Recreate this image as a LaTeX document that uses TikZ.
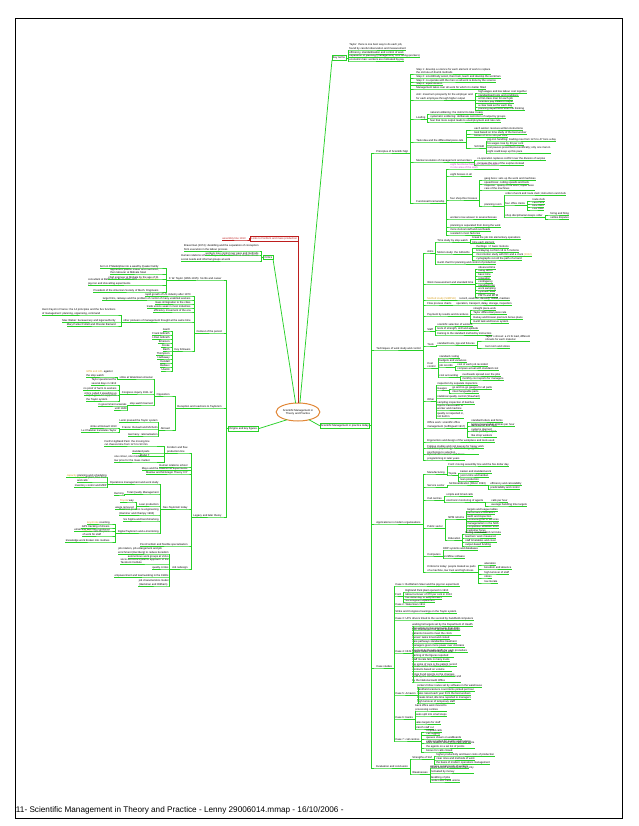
\documentclass[tikz,border=0pt]{standalone}
\usepackage{fontspec}
\setmainfont{Liberation Sans}
\usetikzlibrary{shapes.geometric}
\definecolor{mapgreen}{RGB}{40,208,40}
\definecolor{mapred}{RGB}{190,30,30}
\definecolor{maporange}{RGB}{225,135,55}
\definecolor{mapgold}{RGB}{215,160,30}
\definecolor{mappink}{RGB}{200,60,200}

\begin{document}
\begin{tikzpicture}[x=1pt, y=-1pt,
  every node/.style={font=\fontsize{2.7}{3.3}\selectfont, inner sep=0.4pt, outer sep=0pt, align=left},
  tr/.style={anchor=south west},
  tl/.style={anchor=south east},
  br/.style={draw=mapgreen, line width=0.75pt},
  rb/.style={draw=mapred, line width=0.75pt},
  mainbox/.style={draw=mapgreen, line width=0.75pt, inner sep=0.9pt},
  gold/.style={text=mapgold},
  pink/.style={text=mappink}]
\useasboundingbox (0,0) rectangle (638,826);
\draw[line width=0.8pt] (15,18) rectangle (622,818);
\node[anchor=base west, font=\fontsize{8.2}{10}\selectfont, inner sep=0pt] (foot) at (16,812) {11- Scientific Management in Theory and Practice - Lenny 29006014.mmap - 16/10/2006 -};

\node[ellipse, draw=maporange, line width=1pt, fill=white, minimum width=42pt, minimum height=18pt, align=center] (C) at (298,412) {Scientific Management in\\Theory and Practice};

\node[mainbox, anchor=south west] (B) at (332,60) {Key terms};
\node[mainbox, anchor=south east] (G1) at (273,259) {Critics};
\node[draw=mapred, line width=0.75pt, inner sep=0.9pt, anchor=south east, text=mapred] (Rd1) at (298,241) {Links to Fordism and mass production};
\node[tl, text=mapred] (Rd2) at (246,240) {assembly line 1913};
\node[mainbox, anchor=south west] (R0) at (320,428) {Scientific Management in practice today};
\node[mainbox, anchor=south east] (L0) at (258,431) {Origins and key figures};

\draw[br] (C.78) -- (B.south west);
\draw[br] (C.105) -- (G1.south east);
\draw[rb] (C.north) -- (Rd1.south east);
\draw[rb] (Rd1.west) -- ++(-1.5,0) |- (Rd2.south east) -- (Rd2.south west);
\draw[br] (C.-35) -- (R0.west);
\draw[br] (C.-145) -- (L0.east);

\node[tr] (b1) at (349,50) {Taylor: there is one best way to do each job,\\found by careful observation and measurement};
\node[tr] (b2) at (349,54) {efficiency, standardisation and control of work};
\node[tr] (b3) at (349,57.5) {separation of planning (management) from doing (workers)};
\node[tr] (b4) at (349,61) {economic man: workers are motivated by pay};
\foreach \c in {b1,b2,b3,b4} \draw[br] (B.east) -- ++(2,0) |- (\c.south west) -- (\c.south east);

\node[tl] (g1) at (259,251) {Braverman (1974): deskilling and the separation of conception\\from execution in the labour process};
\node[tl] (g2) at (259,255) {workers lose control over pace and methods};
\node[tl] (g3) at (259,261) {Human relations school: Mayo and the Hawthorne studies stress\\social needs and informal groups at work};
\foreach \c in {g1,g2,g3} \draw[br] (G1.west) -- ++(-2,0) |- (\c.south east) -- (\c.south west);

\node[tr] (R1) at (376,153) {Principles of Scientific Mgt};
\node[tr] (R2) at (376,350) {Techniques of work study and control};
\node[tr] (R3) at (376,524) {Applications in modern organisations};
\node[tr] (R4) at (376,668) {Case studies};
\node[tr] (R5) at (376,768) {Evaluation and conclusion};
\foreach \c in {R1,R2,R3,R4,R5} \draw[br] (R0.east) -- ++(1.5,0) |- (\c.south west) -- (\c.south east);

\node[tr] (r1a) at (416,74) {Step 1: develop a science for each element of work to replace\\the old rule-of-thumb methods};
\node[tr] (r1b) at (416,78) {Step 2: scientifically select, then train, teach and develop the workman};
\node[tr] (r1c) at (416,82) {Step 3: co-operate with the men so all work is done by the science};
\node[tr] (r1d) at (416,85.5) {Step 4: equal division};
\node[tr] (r1e) at (416,89) {Management takes over all work for which it is better fitted};
\node[tr] (r1f) at (416,100) {Aim: maximum prosperity for the employer and\\for each employee through higher output};
\node[tr] (r1g) at (416,119) {Loafing};
\node[tr] (r1h) at (416,142) {Task idea and the differential piece-rate};
\node[tr] (r1i) at (416,162) {Mental revolution of management and workers};
\node[tr] (r1j) at (416,203) {Functional foremanship};
\foreach \c in {r1a,r1b,r1c,r1d,r1e,r1f,r1g,r1h,r1i,r1j} \draw[br] (R1.south east) -- ++(2,0) |- (\c.south west) -- (\c.south east);

\node[tr] (r1f1) at (478,93) {high wages and low labour cost together};
\node[tr] (r1f2) at (478,96.5) {standardised tools and conditions};
\node[tr] (r1f3) at (478,100) {a first-class man for each job};
\node[tr] (r1f4) at (478,103.5) {incentive pay linked to output};
\node[tr] (r1f5) at (478,107) {a clear task set for each day};
\node[tr] (r1f6) at (478,110.5) {planning department does the thinking};
\foreach \c in {r1f1,r1f2,r1f3,r1f4,r1f5,r1f6} \draw[br] (r1f.south east) -- ++(2,0) |- (\c.south west) -- (\c.south east);

\node[tr] (r1g1) at (430,114) {natural soldiering: the instinct to take it easy};
\node[tr] (r1g2) at (430,118) {systematic soldiering: deliberate restriction of output by groups};
\node[tr] (r1g3) at (430,122) {fear that more output leads to unemployment and rate cuts};
\foreach \c in {r1g1,r1g2,r1g3} \draw[br] (r1g.south east) -- ++(2,0) |- (\c.south west) -- (\c.south east);

\node[tr] (r1h1) at (474,130) {each worker receives written instructions};
\node[tr] (r1h2) at (474,134) {task based on time study of the best worker};
\node[tr] (r1h3) at (474,137.5) {bonus of 30 to 100 per cent};
\node[tr] (r1h4) at (474,148) {Schmidt};
\foreach \c in {r1h1,r1h2,r1h3,r1h4} \draw[br] (r1h.south east) -- ++(2,0) |- (\c.south west) -- (\c.south east);
\node[tr] (r1h4a) at (487,141) {pig-iron handling: loading rose from 12.5 to 47 tons a day};
\node[tr] (r1h4b) at (487,145) {his wages rose by 60 per cent};
\node[tr] (r1h4c) at (487,153) {rest pauses prescribed scientifically; only one man in\\eight could keep up this pace};
\foreach \c in {r1h4a,r1h4b,r1h4c} \draw[br] (r1h4.south east) -- ++(2,0) |- (\c.south west) -- (\c.south east);

\node[tr] (r1i1) at (477,160) {co-operation replaces conflict over the division of surplus};
\node[tr] (r1i2) at (477,165) {increase the size of the surplus instead};
\foreach \c in {r1i1,r1i2} \draw[br] (r1i.south east) -- ++(2,0) |- (\c.south west) -- (\c.south east);

\node[tr, pink] (r1j1) at (450,169) {eight functional foremen, each an expert\\in one area of the work};
\node[tr] (r1j2) at (450,176) {eight bosses in all};
\node[tr] (r1j3) at (450,200) {four shop-floor bosses};
\node[tr] (r1j4) at (450,219) {workers now answer to several bosses};
\node[tr] (r1j5) at (450,227) {planning is separated from doing the work};
\node[tr] (r1j6) at (450,231) {more clerical staff and overheads};
\node[tr] (r1j7) at (450,235) {resisted in most factories};
\foreach \c in {r1j1,r1j2,r1j3,r1j4,r1j5,r1j6,r1j7} \draw[br] (r1j.south east) -- ++(2,0) |- (\c.south west) -- (\c.south east);
\node[tr] (r1j3a) at (484,180) {gang boss: sets up the work and machines};
\node[tr] (r1j3b) at (484,184) {speed boss: cutting speeds and tools};
\node[tr] (r1j3c) at (484,190) {inspector: quality of the work; repair boss:\\care of the machines};
\node[tr] (r1j3d) at (484,206) {planning room};
\foreach \c in {r1j3a,r1j3b,r1j3c,r1j3d} \draw[br] (r1j3.south east) -- ++(2,0) |- (\c.south west) -- (\c.south east);
\node[tr] (r1j3d1) at (505,195) {order of work and route clerk; instruction card clerk};
\node[tr] (r1j3d2) at (505,205) {four office clerks};
\node[tr] (r1j3d3) at (505,217) {shop disciplinarian keeps order};
\foreach \c in {r1j3d1,r1j3d2,r1j3d3} \draw[br] (r1j3d.south east) -- ++(2,0) |- (\c.south west) -- (\c.south east);
\node[tr] (k1) at (532,201) {route clerk};
\node[tr] (k2) at (532,204) {card clerk};
\node[tr] (k3) at (532,207) {time clerk};
\node[tr] (k4) at (532,210) {cost clerk};
\foreach \c in {k1,k2,k3,k4} \draw[br] (r1j3d2.south east) -- ++(2,0) |- (\c.south west) -- (\c.south east);
\node[tr] (k5) at (550,215) {hiring and firing};
\node[tr] (k6) at (550,219) {settles disputes};
\foreach \c in {k5,k6} \draw[br] (r1j3d3.south east) -- ++(2,0) |- (\c.south west) -- (\c.south east);

\node[tr] (r2a) at (427,253) {Aims};
\node[tr] (r2b) at (427,284) {Work measurement and standard time};
\node[tr, gold] (r2c) at (427,300) {Method study (SIMPLE)};
\node[tr] (r2d) at (427,305) {Flow process charts};
\node[tr] (r2e) at (427,316) {Payment by results and incentives};
\node[tr] (r2f) at (427,331) {Staff};
\node[tr] (r2g) at (427,346) {Tools};
\node[tr] (r2h) at (427,368) {Cost\\control};
\node[tr] (r2i) at (427,401) {Other};
\node[tr] (r2j) at (427,428) {Office work: scientific office\\management (Leffingwell 1917)};
\node[tr] (r2k) at (427,442) {Ergonomics and design of the workplace and tools used};
\node[tr] (r2l) at (427,448) {Fatigue studies and rest pauses for heavy work};
\node[tr] (r2m) at (427,454) {Industrial psychology: Munsterberg applies\\psychology to selection};
\node[tr] (r2n) at (427,460) {Operations research and linear\\programming in later years};
\foreach \c in {r2a,r2b,r2c,r2d,r2e,r2f,r2g,r2h,r2i,r2j,r2k,r2l,r2m,r2n} \draw[br] (R2.south east) -- ++(2,0) |- (\c.south west) -- (\c.south east);

\node[tr] (r2a1) at (437,242) {Time study by stop-watch};
\node[tr] (r2a2) at (437,254) {Motion study: the Gilbreths};
\node[tr] (r2a3) at (437,264) {Gantt chart for planning and control of production};
\foreach \c in {r2a1,r2a2,r2a3} \draw[br] (r2a.south east) -- ++(2,0) |- (\c.south west) -- (\c.south east);
\node[tr] (r2a1a) at (472,239.5) {break the job into elementary operations};
\node[tr] (r2a1b) at (472,243.5) {time each element};
\foreach \c in {r2a1a,r2a1b} \draw[br] (r2a1.south east) -- ++(2,0) |- (\c.south west) -- (\c.south east);
\node[tr] (r2a2a) at (476,248.5) {therbligs: 17 basic motions};
\node[tr] (r2a2b) at (476,252) {bricklaying cut from 18 to 5 motions};
\node[tr] (r2a2c) at (476,256) {micromotion study with film and a clock {\color{mapgold}(1912)}};
\node[tr] (r2a2d) at (476,260) {cyclegraphs record the path of a hand};
\foreach \c in {r2a2a,r2a2b,r2a2c,r2a2d} \draw[br] (r2a2.south east) -- ++(2,0) |- (\c.south west) -- (\c.south east);

\node[tr] (m1) at (478,269) {observed time};
\node[tr] (m2) at (478,272.5) {rating factor};
\node[tr] (m3) at (478,276) {basic time};
\node[tr] (m4) at (478,279.5) {relaxation};
\node[tr] (m5) at (478,283) {contingency};
\node[tr] (m6) at (478,286.5) {standard time};
\node[tr] (m7) at (478,290) {work sampling};
\node[tr] (m8) at (478,293.5) {synthetic data};
\node[tr] (m9) at (478,297) {PMTS and MTM};
\foreach \c in {m1,m2,m3,m4,m5,m6,m7,m8,m9} \draw[br] (r2b.south east) -- ++(2,0) |- (\c.south west) -- (\c.south east);

\node[tr] (r2c1) at (459,300) {record, examine, develop, install, maintain};
\draw[br] (r2c.south east) -- ++(2,0) |- (r2c1.south west) -- (r2c1.south east);
\node[tr] (r2d1) at (456,305) {operation, transport, delay, storage, inspection};
\draw[br] (r2d.south east) -- ++(2,0) |- (r2d1.south west) -- (r2d1.south east);
\node[tr] (r2e1) at (473,310) {straight piece-work};
\node[tr] (r2e2) at (473,314) {Taylor differential piece rate};
\node[tr] (r2e3) at (473,319) {Halsey and Rowan premium bonus plans};
\node[tr] (r2e4) at (473,323) {Gantt task and bonus system};
\foreach \c in {r2e1,r2e2,r2e3,r2e4} \draw[br] (r2e.south east) -- ++(2,0) |- (\c.south west) -- (\c.south east);
\node[tr] (r2f1) at (437,326) {scientific selection of workers};
\node[tr] (r2f2) at (437,330) {tests of strength, skill and aptitude};
\node[tr] (r2f3) at (437,335) {training to the standard method by instructors};
\foreach \c in {r2f1,r2f2,r2f3} \draw[br] (r2f.south east) -- ++(2,0) |- (\c.south west) -- (\c.south east);
\node[tr] (r2g1) at (437,345) {standard tools, jigs and fixtures};
\draw[br] (r2g.south east) -- ++(2,0) |- (r2g1.south west) -- (r2g1.south east);
\node[tr] (r2g1a) at (485,341) {Taylor's shovel: a 21 lb load, different\\shovels for each material};
\node[tr] (r2g1b) at (485,348) {tool room and stores};
\foreach \c in {r2g1a,r2g1b} \draw[br] (r2g1.south east) -- ++(2,0) |- (\c.south west) -- (\c.south east);

\node[tr] (r2h1) at (439,358) {standard costing};
\node[tr] (r2h2) at (439,362) {budgets and variances};
\node[tr] (r2h3) at (439,367) {job records};
\node[tr] (r2h4) at (439,377) {cost accounting};
\foreach \c in {r2h1,r2h2,r2h3,r2h4} \draw[br] (r2h.south east) -- ++(2,0) |- (\c.south west) -- (\c.south east);
\node[tr] (r2h3a) at (457,366) {cost of each job recorded};
\node[tr] (r2h3b) at (457,370) {compare actual with standard cost};
\foreach \c in {r2h3a,r2h3b} \draw[br] (r2h3.south east) -- ++(2,0) |- (\c.south west) -- (\c.south east);
\node[tr] (r2h4a) at (462,376) {overheads spread over the jobs};
\node[tr] (r2h4b) at (462,380) {monthly cost reports for managers};
\foreach \c in {r2h4a,r2h4b} \draw[br] (r2h4.south east) -- ++(2,0) |- (\c.south west) -- (\c.south east);

\node[tr] (r2i1) at (437,385) {inspection by separate inspectors};
\node[tr] (r2i2) at (437,390) {Gauges};
\node[tr] (r2i3) at (437,398) {statistical quality control (Shewhart)};
\node[tr] (r2i4) at (437,404) {sampling inspection of batches};
\node[tr] (r2i5) at (437,410) {rejects traced back to\\worker and machine};
\node[tr] (r2i6) at (437,418) {quality is inspected in,\\not built in};
\foreach \c in {r2i1,r2i2,r2i3,r2i4,r2i5,r2i6} \draw[br] (r2i.south east) -- ++(2,0) |- (\c.south west) -- (\c.south east);
\node[tr] (r2i2a) at (452,389) {go and no-go gauges for all parts};
\node[tr] (r2i2b) at (452,393) {interchangeable parts};
\foreach \c in {r2i2a,r2i2b} \draw[br] (r2i2.south east) -- ++(2,0) |- (\c.south west) -- (\c.south east);
\node[tr] (r2j1) at (471,422) {standard letters and forms};
\node[tr] (r2j2) at (471,426) {typing measured in strokes per hour};
\node[tr] (r2j3) at (471,431) {desk layout and filing\\systems planned};
\node[tr] (r2j4) at (471,437) {clerks paid by output\\like shop workers};
\foreach \c in {r2j1,r2j2,r2j3,r2j4} \draw[br] (r2j.south east) -- ++(2,0) |- (\c.south west) -- (\c.south east);

\node[tr] (r3a) at (427,474) {Manufacturing};
\node[tr] (r3b) at (427,487) {Service sector};
\node[tr] (r3c) at (427,500) {Call centres};
\node[tr] (r3d) at (427,528) {Public sector};
\node[tr] (r3e) at (427,556) {Computers};
\node[tr] (r3f) at (427,572) {Criticisms today: people treated as parts\\of a machine, low trust and high stress};
\foreach \c in {r3a,r3b,r3c,r3d,r3e,r3f} \draw[br] (R3.south east) -- ++(2,0) |- (\c.south west) -- (\c.south east);
\node[tr] (r3a1) at (448,466) {Ford: moving assembly line and the five dollar day};
\node[tr] (r3a2) at (448,475) {Toyota};
\foreach \c in {r3a1,r3a2} \draw[br] (r3a.south east) -- ++(2,0) |- (\c.south west) -- (\c.south east);
\node[tr] (t1) at (460,473) {kaizen and standard work};
\node[tr] (t2) at (460,477) {just-in-time and kanban};
\node[tr] (t3) at (460,481) {lean production};
\foreach \c in {t1,t2,t3} \draw[br] (r3a2.south east) -- ++(2,0) |- (\c.south west) -- (\c.south east);
\node[tr] (r3b1) at (449,485) {McDonaldization (Ritzer 1993)};
\draw[br] (r3b.south east) -- ++(2,0) |- (r3b1.south west) -- (r3b1.south east);
\node[tr] (r3b1a) at (490,485) {efficiency and calculability};
\node[tr] (r3b1b) at (490,489) {predictability and control};
\foreach \c in {r3b1a,r3b1b} \draw[br] (r3b1.south east) -- ++(2,0) |- (\c.south west) -- (\c.south east);
\node[tr] (r3c1) at (446,496) {scripts and timed calls};
\node[tr] (r3c2) at (446,502) {electronic monitoring of agents};
\foreach \c in {r3c1,r3c2} \draw[br] (r3c.south east) -- ++(2,0) |- (\c.south west) -- (\c.south east);
\node[tr] (r3c2a) at (491,502) {calls per hour};
\node[tr] (r3c2b) at (491,506) {average handling time targets};
\foreach \c in {r3c2a,r3c2b} \draw[br] (r3c2.south east) -- ++(2,0) |- (\c.south west) -- (\c.south east);
\node[tr] (r3d1) at (448,519) {NPM reforms};
\node[tr] (r3d2) at (448,540) {Education};
\foreach \c in {r3d1,r3d2} \draw[br] (r3d.south east) -- ++(2,0) |- (\c.south west) -- (\c.south east);
\node[tr] (n1) at (467,511) {targets and league tables};
\node[tr] (n2) at (467,514.5) {performance indicators};
\node[tr] (n3) at (467,518) {audit and inspection};
\node[tr] (n4) at (467,521.5) {contracting out of services};
\node[tr] (n5) at (467,525) {managerialism in the NHS};
\node[tr] (n6) at (467,528.5) {competition between units};
\node[tr] (n7) at (467,532) {customer focus};
\foreach \c in {n1,n2,n3,n4,n5,n6,n7} \draw[br] (r3d1.south east) -- ++(2,0) |- (\c.south west) -- (\c.south east);
\node[tr] (e1) at (465,534) {testing and standard curricula};
\node[tr] (e2) at (465,538) {teachers' work measured};
\node[tr] (e3) at (465,542) {staff timetables and cover};
\node[tr] (e4) at (465,546) {output-based funding};
\foreach \c in {e1,e2,e3,e4} \draw[br] (r3d2.south east) -- ++(2,0) |- (\c.south west) -- (\c.south east);
\node[tr] (r3e1) at (443,550) {ERP systems and databases};
\node[tr] (r3e2) at (443,558) {workflow software};
\foreach \c in {r3e1,r3e2} \draw[br] (r3e.south east) -- ++(2,0) |- (\c.south west) -- (\c.south east);
\node[tr] (f1) at (484,565) {alienation};
\node[tr] (f2) at (484,569) {boredom and absence};
\node[tr] (f3) at (484,574) {high turnover of staff};
\node[tr] (f4) at (484,578) {stress};
\node[tr] (f5) at (484,583) {low morale};
\foreach \c in {f1,f2,f3,f4,f5} \draw[br] (r3f.south east) -- ++(2,0) |- (\c.south west) -- (\c.south east);

\node[tr] (r4a) at (395,586) {Case 1: Bethlehem Steel and the pig-iron experiment};
\node[tr] (r4b) at (395,596) {Ford};
\node[tr] (r4c) at (395,606) {Case 2: Watertown 1911};
\node[tr] (r4d) at (395,613) {Strike and Congress hearings on the Taylor system};
\node[tr] (r4e) at (395,620) {Case 3: UPS drivers timed to the second by handheld computers};
\node[tr] (r4f) at (395,653) {Case 4: NHS};
\node[tr] (r4g) at (395,695) {Case 5: Amazon};
\node[tr] (r4h) at (395,719) {Case 6: banks};
\node[tr] (r4i) at (395,741) {Case 7: call centres};
\foreach \c in {r4a,r4b,r4c,r4d,r4e,r4f,r4g,r4h,r4i} \draw[br] (R4.south east) -- ++(2,0) |- (\c.south west) -- (\c.south east);
\node[tr] (r4b1) at (405,592) {Highland Park plant opened in 1910};
\node[tr] (r4b2) at (405,596) {labour turnover of 370 per cent in 1913};
\node[tr] (r4b3) at (405,599) {five dollar day to keep workers};
\node[tr] (r4b4) at (405,602) {Sociological Department};
\foreach \c in {r4b1,r4b2,r4b3,r4b4} \draw[br] (r4b.south east) -- ++(2,0) |- (\c.south west) -- (\c.south east);
\node[tr] (h1) at (412,626) {waiting list targets set by the Department of Health};
\node[tr] (h2) at (412,630) {star ratings for hospital trusts from 2001};
\node[tr] (h3) at (412,635) {four hour target in A and E departments,\\patients moved to meet the clock};
\node[tr] (h4) at (412,639) {nurses' tasks timed and costed};
\node[tr] (h5) at (412,643) {care pathways standardise treatment};
\node[tr] (h6) at (412,647) {managers given more power over clinicians};
\node[tr] (h7) at (412,652) {Payment by Results tariffs for each procedure};
\node[tr] (h8) at (412,657) {league tables published each year,\\gaming of the figures reported};
\node[tr] (h9) at (412,661) {staff morale falls in many trusts};
\node[tr] (h10) at (412,666) {the spine of care is the patient record};
\node[tr] (h11) at (412,671) {private sector treatment centres,\\contracts based on volume};
\node[tr] (h12) at (412,676) {Kings Fund reports on the changes};
\node[tr] (h13) at (412,682) {audit by the Healthcare Commission and\\by the National Audit Office};
\foreach \c in {h1,h2,h3,h4,h5,h6,h7,h8,h9,h10,h11,h12,h13} \draw[br] (r4f.south east) -- ++(2,0) |- (\c.south west) -- (\c.south east);
\node[tr] (a1) at (417,687) {pickers follow routes set by software in the warehouse};
\node[tr] (a2) at (417,691) {handheld scanners count items picked per hour};
\node[tr] (a3) at (417,695) {rates raised each year from the best workers};
\node[tr] (a4) at (417,699) {breaks timed, idle time reported to managers};
\node[tr] (a5) at (417,703) {high turnover of temporary staff};
\foreach \c in {a1,a2,a3,a4,a5} \draw[br] (r4g.south east) -- ++(2,0) |- (\c.south west) -- (\c.south east);
\node[tr] (k7) at (415,711) {back office work moved to\\processing centres};
\node[tr] (k8) at (415,716) {tasks split into small steps};
\node[tr] (k9) at (415,724) {sales targets for staff};
\node[tr] (k10) at (415,729) {branch staff cut};
\foreach \c in {k7,k8,k9,k10} \draw[br] (r4h.south east) -- ++(2,0) |- (\c.south west) -- (\c.south east);
\node[tr] (c1) at (426,732) {scripted calls};
\node[tr] (c2) at (426,735.5) {call logging};
\node[tr] (c3) at (426,739) {queues shown on wallboards};
\node[tr] (c4) at (426,743) {calls recorded for quality and training};
\node[tr] (c5) at (426,748) {team leaders listen in on calls and score\\the agents on a set list of points};
\node[tr] (c6) at (426,752) {bonus for calls closed};
\foreach \c in {c1,c2,c3,c4,c5,c6} \draw[br] (r4i.south east) -- ++(2,0) |- (\c.south west) -- (\c.south east);

\node[tr] (r5a) at (412,759) {Strengths of SM};
\node[tr] (r5b) at (412,774) {Weaknesses};
\foreach \c in {r5a,r5b} \draw[br] (R5.south east) -- ++(2,0) |- (\c.south west) -- (\c.south east);
\node[tr] (s1) at (436,756) {higher productivity and lower costs of production};
\node[tr] (s2) at (436,760) {clear roles and methods of work};
\node[tr] (s3) at (436,764) {the basis of modern operations management};
\foreach \c in {s1,s2,s3} \draw[br] (r5a.south east) -- ++(2,0) |- (\c.south west) -- (\c.south east);
\node[tr] (w1) at (430,768) {ignores social needs of workers};
\node[tr] (w2) at (430,773) {treats people as economic men only\\motivated by money};
\node[tr] (w3) at (430,779) {deskilling of jobs};
\node[tr] (w4) at (430,782) {conflict with trade unions};
\foreach \c in {w1,w2,w3,w4} \draw[br] (r5b.south east) -- ++(2,0) |- (\c.south west) -- (\c.south east);

\node[tl] (L1) at (222,280) {F. W. Taylor (1856-1915): his life and career};
\node[tl] (L2) at (222,333) {Context of the period};
\node[tl] (L3) at (222,408) {Reception and reactions to Taylorism};
\node[tl] (L4) at (222,517) {Legacy and later theory};
\foreach \c in {L1,L2,L3,L4} \draw[br] (L0.west) -- ++(-2,0) |- (\c.south east) -- (\c.south west);

\node[tl] (l1a) at (159,268) {born in Philadelphia into a wealthy Quaker family};
\node[tl] (l1b) at (159,274) {apprentice pattern maker and machinist,\\then labourer at Midvale Steel};
\node[tl] (l1c) at (159,279) {chief engineer at Midvale by the age of 31};
\node[tl] (l1d) at (159,285) {consultant at Bethlehem Steel 1898-1901 {\color{mapgold}where he ran the}\\pig-iron and shovelling experiments};
\node[tl] (l1e) at (159,292) {President of the American Society of Mech. Engineers};
\foreach \c in {l1a,l1b,l1c,l1d,l1e} \draw[br] (L1.south west) -- ++(-2,0) |- (\c.south east) -- (\c.south west);

\node[tl] (l2a) at (191,296) {rapid growth of US industry after 1870};
\node[tl] (l2b) at (191,300) {large firms, railways and the problem of control of many unskilled workers};
\node[tl] (l2c) at (191,304) {mass immigration to the cities};
\node[tl] (l2d) at (191,308) {trade unions weak in most industries};
\node[tl] (l2e) at (191,312) {efficiency movement of the era};
\node[tl] (l2f) at (191,322) {other pioneers of management thought at the same time};
\node[tl] (l2g) at (191,351) {Key followers};
\foreach \c in {l2a,l2b,l2c,l2d,l2e,l2f,l2g} \draw[br] (L2.south west) -- ++(-2,0) |- (\c.south east) -- (\c.south west);
\node[tl] (l2f1) at (116,315) {Henri Fayol in France: the 14 principles and the five functions\\of management: planning, organising, command};
\node[tl] (l2f2) at (116,322) {Max Weber: bureaucracy and legal authority};
\node[tl] (l2f3) at (116,326) {Mary Parker Follett and Chester Barnard};
\foreach \c in {l2f1,l2f2,l2f3} \draw[br] (l2f.south west) -- ++(-2,0) |- (\c.south east) -- (\c.south west);
\node[tl] (p1) at (170,331) {Gantt};
\node[tl] (p2) at (170,335) {Frank Gilbreth};
\node[tl] (p3) at (170,339) {Lillian Gilbreth};
\node[tl] (p4) at (170,343) {Emerson};
\node[tl] (p5) at (170,347) {Cooke};
\node[tl] (p6) at (170,351) {Barth};
\node[tl] (p7) at (170,355) {Thompson};
\node[tl] (p8) at (170,359) {Hathaway};
\node[tl] (p9) at (170,363) {Kendall};
\node[tl] (p10) at (170,367) {Bedaux};
\node[tl] (p11) at (170,371) {Urwick};
\foreach \c in {p1,p2,p3,p4,p5,p6,p7,p8,p9,p10,p11} \draw[br] (l2g.south west) -- ++(-2,0) |- (\c.south east) -- (\c.south west);

\node[tl] (l3a) at (170,396) {Opposition};
\node[tl] (l3b) at (170,430) {Abroad};
\foreach \c in {l3a,l3b} \draw[br] (L3.south west) -- ++(-2,0) |- (\c.south east) -- (\c.south west);
\node[tl] (l3a1) at (153,379) {strike at Watertown Arsenal};
\node[tl] (l3a2) at (153,394) {Congress inquiry 1911-12};
\node[tl] (l3a3) at (153,405) {stop-watch banned};
\foreach \c in {l3a1,l3a2,l3a3} \draw[br] (l3a.south west) -- ++(-2,0) |- (\c.south east) -- (\c.south west);
\node[tl] (l3a1a) at (113,377) {{\color{mapgold}IWW and AFL} against\\the stop-watch};
\draw[br] (l3a1.south west) -- ++(-2,0) |- (l3a1a.south east) -- (l3a1a.south west);
\node[tl] (q1) at (117,385) {Taylor questioned for\\several days in 1912};
\node[tl] (q2) at (117,390) {no proof of harm to workers};
\node[tl] (q3) at (117,395) {critics called it speeding up};
\node[tl] (q4) at (117,401) {report gave no support to\\the Taylor system};
\foreach \c in {q1,q2,q3,q4} \draw[br] (l3a2.south west) -- ++(-2,0) |- (\c.south east) -- (\c.south west);
\node[tl] (q5) at (127,406) {in government arsenals};
\node[tl] (q6) at (127,410) {until 1949};
\foreach \c in {q5,q6} \draw[br] (l3a3.south west) -- ++(-2,0) |- (\c.south east) -- (\c.south west);
\node[tl] (l3b1) at (158,422) {Lenin praised the Taylor system};
\node[tl] (l3b2) at (158,429) {France: Renault and Michelin};
\node[tl] (l3b3) at (158,436) {Germany: rationalisation};
\foreach \c in {l3b1,l3b2,l3b3} \draw[br] (l3b.south west) -- ++(-2,0) |- (\c.south east) -- (\c.south west);
\node[tl] (q7) at (117,428) {strike at Renault 1913};
\node[tl] (q8) at (117,432) {Le Chatelier translates Taylor};
\foreach \c in {q7,q8} \draw[br] (l3b2.south west) -- ++(-2,0) |- (\c.south east) -- (\c.south west);

\node[tl] (l4a) at (188,453) {Fordism and flow\\production line};
\node[tl] (l4b) at (188,467) {Human relations school};
\node[tl] (l4c) at (188,470.5) {Mayo and the Hawthorne experiments};
\node[tl] (l4d) at (188,474) {Maslow and McGregor Theory X/Y};
\node[tl] (l4e) at (188,509) {Neo-Taylorism today};
\node[tl] (l4f) at (188,546) {Post-Fordism and flexible specialisation};
\node[tl] (l4g) at (188,569) {Job redesign};
\foreach \c in {l4a,l4b,l4c,l4d,l4e,l4f,l4g} \draw[br] (L4.south west) -- ++(-2,0) |- (\c.south east) -- (\c.south west);
\node[tl] (l4a1) at (150,446) {Ford's Highland Park: the moving line\\cut chassis time from 12 h to 93 min};
\node[tl] (l4a2) at (150,453) {standard parts};
\node[tl] (l4a3) at (150,456.5) {Model T};
\node[tl] (l4a4) at (150,462) {one colour, one model,\\low price for the mass market};
\foreach \c in {l4a1,l4a2,l4a3,l4a4} \draw[br] (l4a.south west) -- ++(-2,0) |- (\c.south east) -- (\c.south west);
\node[tl] (l4e1) at (159,484) {Operations management and work study};
\node[tl] (l4e2) at (159,494) {Total Quality Management};
\node[tl] (l4e3) at (159,506) {Lean production};
\node[tl] (l4e4) at (159,515) {Business process re-engineering\\(Hammer and Champy 1993)};
\node[tl] (l4e5) at (159,521) {Six Sigma and benchmarking};
\node[tl] (l4e6) at (159,533) {Digital Taylorism and e-monitoring};
\foreach \c in {l4e1,l4e2,l4e3,l4e4,l4e5,l4e6} \draw[br] (l4e.south west) -- ++(-2,0) |- (\c.south east) -- (\c.south west);
\node[tl] (o1) at (107,477) {{\color{mapgold}capacity} planning and scheduling};
\node[tl] (o2) at (107,482) {{\color{mapgold}layout} of plant, flow lines\\and cells};
\node[tl] (o3) at (107,487) {inventory control and MRP};
\foreach \c in {o1,o2,o3} \draw[br] (l4e1.south west) -- ++(-2,0) |- (\c.south east) -- (\c.south west);
\node[tl] (o4) at (124,495) {Deming};
\draw[br] (l4e2.south west) -- ++(-2,0) |- (o4.south east) -- (o4.south west);
\node[tl] (o5) at (134,502) {{\color{mapgold}Toyota} way};
\node[tl] (o6) at (134,509) {waste removed};
\foreach \c in {o5,o6} \draw[br] (l4e3.south west) -- ++(-2,0) |- (\c.south east) -- (\c.south west);
\node[tl] (o7) at (110,524) {{\color{mapgold}keystroke} counting};
\node[tl] (o8) at (110,528) {GPS tracking of drivers};
\node[tl] (o9) at (110,531) {email and web use monitored};
\node[tl] (o10) at (110,536) {{\color{mapgold}software} sets the pace\\of work for staff};
\node[tl] (o11) at (110,542) {knowledge work broken into routines};
\foreach \c in {o7,o8,o9,o10,o11} \draw[br] (l4e6.south west) -- ++(-2,0) |- (\c.south east) -- (\c.south west);
\node[tl] (j1) at (169,554) {job rotation, job enlargement and job\\enrichment (Herzberg) to reduce boredom};
\node[tl] (j2) at (169,558) {autonomous work groups at Volvo};
\node[tl] (j3) at (169,564) {socio-technical systems approach of the\\Tavistock Institute};
\node[tl] (j4) at (169,569) {quality circles};
\node[tl] (j5) at (169,577) {empowerment and teamworking in the 1990s};
\node[tl] (j6) at (169,586) {job characteristics model\\(Hackman and Oldham)};
\foreach \c in {j1,j2,j3,j4,j5,j6} \draw[br] (l4g.south west) -- ++(-2,0) |- (\c.south east) -- (\c.south west);
\end{tikzpicture}
\end{document}
